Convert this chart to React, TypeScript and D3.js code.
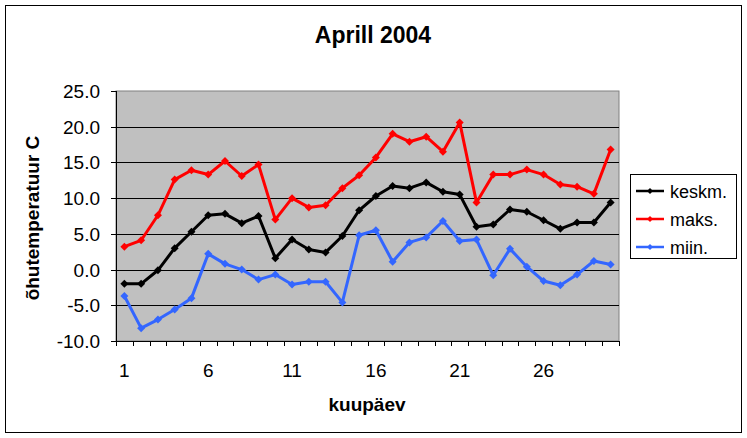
import React from 'react';
import * as d3 from 'd3';

// kuupäevad 1..30
const days = [
  1, 2, 3, 4, 5, 6, 7, 8, 9, 10, 11, 12, 13, 14, 15,
  16, 17, 18, 19, 20, 21, 22, 23, 24, 25, 26, 27, 28, 29, 30,
];

const keskm = [
  -2.0, -2.0, -0.1, 3.0, 5.3, 7.6, 7.8, 6.5, 7.5, 1.6, 4.2, 2.8, 2.4, 4.7, 8.3,
  10.3, 11.7, 11.4, 12.2, 10.9, 10.5, 6.0, 6.3, 8.4, 8.1, 6.9, 5.7, 6.6, 6.6, 9.4,
];

const maks = [
  3.2, 4.1, 7.6, 12.6, 13.9, 13.3, 15.2, 13.1, 14.7, 7.0, 10.0, 8.7, 9.0, 11.4, 13.2,
  15.7, 19.0, 17.9, 18.6, 16.5, 20.6, 9.4, 13.3, 13.3, 14.0, 13.3, 11.9, 11.6, 10.6, 16.8,
];

const miin = [
  -3.7, -8.2, -7.0, -5.6, -4.0, 2.2, 0.8, 0.0, -1.4, -0.7, -2.1, -1.7, -1.7, -4.6, 4.8,
  5.5, 1.1, 3.8, 4.5, 6.8, 4.0, 4.2, -0.8, 2.9, 0.4, -1.6, -2.2, -0.7, 1.2, 0.7,
];

const yTicks = [-10, -5, 0, 5, 10, 15, 20, 25];
const xTickLabels = [1, 6, 11, 16, 21, 26];

const series = [
  { name: 'keskm.', values: keskm, color: '#000000' },
  { name: 'maks.', values: maks, color: '#ff0000' },
  { name: 'miin.', values: miin, color: '#3366ff' },
];

const W = 747;
const H = 438;
const plot = { left: 116, right: 619, top: 91, bottom: 341 };
const FONT = 'Arial, "Liberation Sans", sans-serif';

const Diamond = ({ x, y, color, r = 3.5 }: { x: number; y: number; color: string; r?: number }) => (
  <path d={`M${x},${y - r}L${x + r},${y}L${x},${y + r}L${x - r},${y}Z`} fill={color} />
);

export default function App() {
  const x = d3.scaleBand<number>().domain(days).range([plot.left, plot.right]);
  const cx = (d: number) => (x(d) as number) + x.bandwidth() / 2;
  const y = d3.scaleLinear().domain([-10, 25]).range([plot.bottom, plot.top]);

  const line = d3
    .line<number>()
    .x((_, i) => cx(days[i]))
    .y((v) => y(v));

  const tickXs = days.map((d) => x(d) as number).concat([plot.right]);

  return (
    <div style={{ position: 'absolute', left: 0, top: 0 }}>
      <svg width={W} height={H} style={{ display: 'block', background: '#fff' }} fontFamily={FONT}>
        <rect x={5.5} y={5.5} width={736} height={427} fill="#fff" stroke="#000" strokeWidth={1} />

        <text x={373} y={43} textAnchor="middle" fontSize={23} fontWeight="bold">
          Aprill 2004
        </text>

        {/* plot area */}
        <rect
          x={plot.left}
          y={plot.top}
          width={plot.right - plot.left}
          height={plot.bottom - plot.top}
          fill="#c0c0c0"
          stroke="#808080"
          strokeWidth={1}
        />

        {yTicks.map((t) => (
          <g key={t}>
            {t > -10 && t < 25 && (
              <line x1={plot.left} x2={plot.right} y1={Math.round(y(t)) + 0.5} y2={Math.round(y(t)) + 0.5} stroke="#000" />
            )}
            <line x1={plot.left - 5} x2={plot.left} y1={Math.round(y(t)) + 0.5} y2={Math.round(y(t)) + 0.5} stroke="#000" />
            <text x={100} y={y(t) + 7} textAnchor="end" fontSize={19}>
              {t.toFixed(1)}
            </text>
          </g>
        ))}

        {/* axes */}
        <line x1={plot.left + 0.5} x2={plot.left + 0.5} y1={plot.top} y2={plot.bottom} stroke="#000" />
        <line x1={plot.left} x2={plot.right} y1={plot.bottom + 0.5} y2={plot.bottom + 0.5} stroke="#000" />
        {tickXs.map((tx, i) => (
          <line key={i} x1={Math.round(tx) + 0.5} x2={Math.round(tx) + 0.5} y1={plot.bottom} y2={plot.bottom + 5} stroke="#000" />
        ))}
        {xTickLabels.map((d) => (
          <text key={d} x={cx(d)} y={377} textAnchor="middle" fontSize={19}>
            {d}
          </text>
        ))}

        <text x={367} y={411} textAnchor="middle" fontSize={19} fontWeight="bold">
          kuupäev
        </text>
        <text
          transform={`translate(39,218) rotate(-90)`}
          textAnchor="middle"
          fontSize={19}
          fontWeight="bold"
        >
          õhutemperatuur C
        </text>

        {/* series */}
        {series.map((s) => (
          <g key={s.name}>
            <path d={line(s.values) as string} fill="none" stroke={s.color} strokeWidth={3} strokeLinejoin="round" />
            {s.values.map((v, i) => (
              <Diamond key={i} x={cx(days[i])} y={y(v)} color={s.color} r={4} />
            ))}
          </g>
        ))}

        {/* legend */}
        <rect x={630.5} y={174.5} width={106} height={84} fill="#fff" stroke="#000" />
        {series.map((s, i) => {
          const ly = 191 + i * 28;
          return (
            <g key={s.name}>
              <line x1={636} x2={664} y1={ly} y2={ly} stroke={s.color} strokeWidth={2.5} />
              <Diamond x={650} y={ly} color={s.color} r={3} />
              <text x={670} y={ly + 7} fontSize={18}>
                {s.name}
              </text>
            </g>
          );
        })}
      </svg>
    </div>
  );
}
